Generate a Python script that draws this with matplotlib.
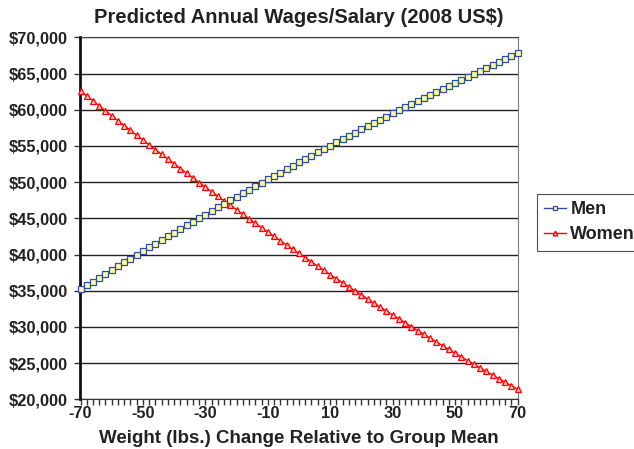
import matplotlib
matplotlib.use("Agg")
import matplotlib.pyplot as plt
from matplotlib.ticker import FuncFormatter, MultipleLocator

plt.rcParams['font.family'] = ['Liberation Sans', 'DejaVu Sans']
plt.rcParams['axes.unicode_minus'] = False

weight_change = list(range(-70, 71, 2))
men = [35200, 35730, 36270, 36800, 37330, 37850, 38380, 38900, 39420, 39940,
       40460, 40970, 41480, 42000, 42500, 43010, 43520, 44020, 44520, 45020,
       45510, 46010, 46500, 46990, 47480, 47970, 48450, 48940, 49420, 49890,
       50370, 50850, 51320, 51790, 52260, 52720, 53190, 53650, 54110, 54570,
       55030, 55480, 55940, 56390, 56840, 57280, 57730, 58170, 58610, 59050,
       59490, 59920, 60350, 60780, 61210, 61640, 62060, 62490, 62910, 63330,
       63740, 64160, 64570, 64980, 65390, 65800, 66200, 66600, 67000, 67400,
       67800]
women = [62600, 61910, 61220, 60530, 59840, 59160, 58480, 57810, 57140, 56470,
         55800, 55140, 54480, 53820, 53170, 52520, 51870, 51220, 50580, 49940,
         49310, 48680, 48050, 47420, 46800, 46180, 45560, 44940, 44330, 43720,
         43120, 42520, 41920, 41320, 40730, 40140, 39550, 38970, 38390, 37810,
         37230, 36660, 36090, 35530, 34960, 34400, 33850, 33290, 32740, 32200,
         31650, 31110, 30570, 30040, 29500, 28970, 28450, 27930, 27400, 26890,
         26370, 25860, 25350, 24850, 24350, 23850, 23350, 22860, 22370, 21880,
         21400]
x_tick_labels = [-70, -50, -30, -10, 10, 30, 50, 70]
y_ticks = list(range(20000, 70001, 5000))

fig = plt.figure(figsize=(6.34, 4.49), dpi=100)
ax = fig.add_axes([80.5/634, 1-399.3/449, (517.5-80.5)/634, (399.3-37.3)/449])

ax.plot(weight_change, men, color='#2E4DA6', lw=1.0, marker='s', ms=4,
        mfc='#FFFF99', mec='#2E4DA6', mew=0.9, label='Men', clip_on=False, zorder=4)
ax.plot(weight_change, women, color='#FF0000', lw=1.0, marker='^', ms=4.5,
        mfc='#FFC8C8', mec='#FF0000', mew=0.9, label='Women', clip_on=False, zorder=3)

ax.set_xlim(-70, 70)
ax.set_ylim(20000, 70000)
ax.set_yticks(y_ticks)
ax.yaxis.set_major_formatter(FuncFormatter(lambda v, p: '${:,.0f}'.format(v)))
ax.set_xticks(x_tick_labels)
ax.xaxis.set_minor_locator(MultipleLocator(2))
ax.tick_params(axis='x', which='both', direction='out', length=4, width=1, color='#333333', pad=1)
ax.tick_params(axis='y', which='major', direction='out', length=4, width=1, color='#333333', pad=5)
for lab in ax.get_xticklabels() + ax.get_yticklabels():
    lab.set_fontweight('bold')
    lab.set_fontsize(11.8)
    lab.set_color('#222222')

ax.grid(axis='y', color='#222222', lw=1.0)
ax.set_axisbelow(True)
ax.spines['left'].set_linewidth(2)
ax.spines['left'].set_color('#111111')
ax.spines['bottom'].set_color('#333333')
ax.spines['right'].set_color('#777777')
ax.spines['top'].set_color('#444444')

ax.set_title('Predicted Annual Wages/Salary (2008 US$)', fontsize=14.5, fontweight='bold',
             color='#222222', pad=10)
ax.set_xlabel('Weight (lbs.) Change Relative to Group Mean', fontsize=13.5,
              fontweight='bold', color='#222222', labelpad=6)

leg = fig.legend(loc='upper left', bbox_to_anchor=(537/634, 1-194/449),
                 frameon=True, fancybox=False, edgecolor='#222222',
                 prop={'weight': 'bold', 'size': 13}, handlelength=1.2,
                 handletextpad=0.25, borderpad=0.4, labelspacing=0.45,
                 borderaxespad=0)
leg.get_frame().set_linewidth(0.8)
for h in leg.legend_handles:
    h.set_markersize(3.5)
for t in leg.get_texts():
    t.set_color('#222222')

fig.savefig('out.png', dpi=100)
